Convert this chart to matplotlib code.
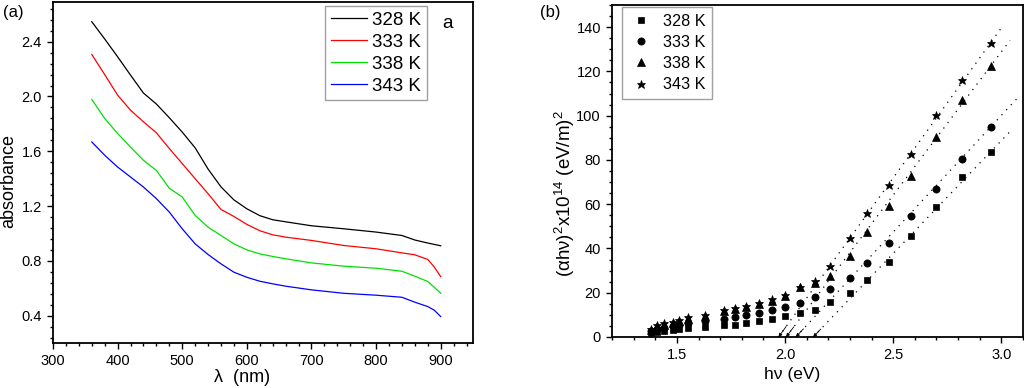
import matplotlib
matplotlib.use("Agg")
import matplotlib.pyplot as plt
import numpy as np
from matplotlib.ticker import MultipleLocator

plt.rcParams['font.family'] = ['Liberation Sans', 'DejaVu Sans']
plt.rcParams['mathtext.fontset'] = 'custom'
plt.rcParams['mathtext.rm'] = 'Liberation Sans'
plt.rcParams['mathtext.it'] = 'Liberation Sans:italic'
plt.rcParams['mathtext.bf'] = 'Liberation Sans:bold'

# ---------------- data: panel (a) ----------------
wavelength = [360, 380, 400, 420, 440, 460, 480, 500, 520, 540, 560, 580,
              600, 620, 640, 660, 700, 750, 800, 840, 860, 880, 890, 900]
abs_328 = [2.546, 2.42, 2.29, 2.156, 2.025, 1.945, 1.845, 1.74, 1.625, 1.47, 1.34, 1.245,
           1.18, 1.13, 1.10, 1.085, 1.056, 1.034, 1.01, 0.985, 0.952, 0.93, 0.92, 0.91]
abs_333 = [2.307, 2.16, 2.01, 1.90, 1.815, 1.735, 1.62, 1.51, 1.40, 1.29, 1.175, 1.124,
           1.066, 1.02, 0.99, 0.973, 0.949, 0.912, 0.888, 0.858, 0.844, 0.81, 0.755, 0.685]
abs_338 = [1.978, 1.84, 1.73, 1.63, 1.534, 1.46, 1.33, 1.266, 1.132, 1.046, 0.985, 0.924,
           0.88, 0.851, 0.832, 0.815, 0.785, 0.761, 0.746, 0.724, 0.688, 0.649, 0.607, 0.563]
abs_343 = [1.668, 1.571, 1.485, 1.412, 1.339, 1.254, 1.156, 1.034, 0.924, 0.846, 0.778, 0.717,
           0.680, 0.651, 0.632, 0.615, 0.588, 0.563, 0.549, 0.534, 0.498, 0.466, 0.44, 0.393]
labels_a = ['328 K', '333 K', '338 K', '343 K']
colors_a = ['#000000', '#ff0000', '#00e000', '#0000ff']

# ---------------- data: panel (b) ----------------
energy = [1.38, 1.41, 1.44, 1.48, 1.51, 1.55, 1.63, 1.72, 1.77, 1.82, 1.88, 1.94,
          2.00, 2.07, 2.14, 2.21, 2.30, 2.38, 2.48, 2.58, 2.70, 2.82, 2.95]
tauc_328 = [1.8, 2.4, 2.9, 3.3, 3.6, 4.1, 4.5, 5.3, 5.6, 6.3, 7.1, 8.1,
            9.3, 10.8, 12.3, 15.6, 19.8, 25.8, 34.1, 45.7, 58.6, 72.4, 83.7]
tauc_333 = [2.6, 3.6, 4.1, 4.8, 5.6, 6.3, 7.1, 8.3, 9.0, 10.1, 10.8, 12.0,
            13.5, 15.3, 17.9, 21.6, 26.6, 33.3, 42.4, 54.8, 66.8, 80.5, 94.9]
tauc_338 = [3.3, 4.8, 5.6, 6.3, 7.1, 8.3, 9.3, 11.6, 12.6, 13.5, 14.9, 16.4,
            18.3, 22.5, 24.6, 27.6, 36.8, 47.6, 59.3, 72.9, 90.4, 107.0, 122.4]
tauc_343 = [3.8, 5.4, 6.2, 7.0, 7.8, 9.0, 9.9, 12.3, 13.3, 14.0, 15.5, 17.0,
            18.8, 22.8, 25.4, 32.3, 44.6, 55.9, 68.6, 82.9, 100.2, 116.0, 132.9]
labels_b = ['328 K', '333 K', '338 K', '343 K']
markers_b = ['s', 'o', '^', '*']
msizes_b = [4.6, 5.2, 5.8, 6.3]
# linear fits (x-intercept = band gap, slope, end of drawn line)
fit_intercept = [2.13, 2.05, 2.005, 1.97]
fit_slope = [102.0, 105.4, 129.5, 135.6]
fit_end = [3.04, 3.08, 3.04, 3.00]

W, H = 1024, 388
fig = plt.figure(figsize=(W / 100, H / 100), dpi=100)


def px_axes(l, t, r, b):
    return fig.add_axes([l / W, 1 - b / H, (r - l) / W, (b - t) / H])


def style_axes(ax):
    for s in ax.spines.values():
        s.set_linewidth(1.3)
    ax.tick_params(which='both', direction='out', top=False, right=False,
                   labelsize=10.5, width=1.0)
    ax.tick_params(which='major', length=4.5, pad=3.5)
    ax.tick_params(which='minor', length=2.5)


# ---------------- panel (a) ----------------
axa = px_axes(53, 2, 473, 343)
series_a = [abs_328, abs_333, abs_338, abs_343]
for ys, lab, c in zip(series_a, labels_a, colors_a):
    axa.plot(wavelength, ys, color=c, lw=0.9, label=lab)
axa.set_xlim(300, 950)
axa.set_ylim(0.2, 2.69)
axa.xaxis.set_major_locator(MultipleLocator(100))
axa.xaxis.set_minor_locator(MultipleLocator(20))
axa.yaxis.set_major_locator(MultipleLocator(0.4))
axa.yaxis.set_minor_locator(MultipleLocator(0.08))
axa.set_xticks([300, 400, 500, 600, 700, 800, 900])
axa.yaxis.set_major_formatter(matplotlib.ticker.FormatStrFormatter('%.1f'))
style_axes(axa)
leg_a = axa.legend(loc='upper left', bbox_to_anchor=(325 / W, 1 - 6 / H),
                   bbox_transform=fig.transFigure, fontsize=13.5, frameon=True,
                   fancybox=False, borderpad=0.3, borderaxespad=0,
                   handlelength=1.92, handletextpad=0.28, labelspacing=0.26)
leg_a.get_frame().set_edgecolor('#888888')
leg_a.get_frame().set_linewidth(1.0)
fig.text(447.7 / W, 1 - 24 / H, 'a', fontsize=13.5, ha='center', va='center')

# ---------------- panel (b) ----------------
axb = px_axes(612, 5, 1023, 337)
series_b = [tauc_328, tauc_333, tauc_338, tauc_343]
for ys, lab, m, ms in zip(series_b, labels_b, markers_b, msizes_b):
    axb.plot(energy, ys, linestyle='none', marker=m, ms=ms, color='k',
             markeredgewidth=0.5, label=lab)
for x0, k, x1 in zip(fit_intercept, fit_slope, fit_end):
    xx = np.array([x0, x1])
    axb.plot(xx, k * (xx - x0), color='k', lw=0.9, linestyle=(0, (1, 4.5)))
    dx = 0.035
    axb.annotate('', xy=(x0, 0), xytext=(x0 + dx, k * dx),
                 arrowprops=dict(arrowstyle='-|>', lw=0.6, color='k',
                                 mutation_scale=5, shrinkA=0, shrinkB=0))
axb.set_xlim(1.2, 3.1)
axb.set_ylim(0, 150)
axb.xaxis.set_major_locator(MultipleLocator(0.5))
axb.xaxis.set_minor_locator(MultipleLocator(0.1))
axb.yaxis.set_major_locator(MultipleLocator(20))
axb.yaxis.set_minor_locator(MultipleLocator(5))
axb.set_xticks([1.5, 2.0, 2.5, 3.0])
axb.set_yticks([0, 20, 40, 60, 80, 100, 120, 140])
axb.xaxis.set_major_formatter(matplotlib.ticker.FormatStrFormatter('%.1f'))
style_axes(axb)
leg_b = axb.legend(loc='upper left', bbox_to_anchor=(622 / W, 1 - 7.3 / H),
                   bbox_transform=fig.transFigure, fontsize=11.7, frameon=True,
                   fancybox=False, borderpad=0.4, borderaxespad=0,
                   handlelength=1.5, handletextpad=0.6, labelspacing=0.38,
                   numpoints=1)
leg_b.get_frame().set_edgecolor('#888888')
leg_b.get_frame().set_linewidth(1.0)

# ---------------- labels ----------------
fig.text(13 / W, 1 - 12 / H, '(a)', fontsize=12, ha='center', va='center')
fig.text(550 / W, 1 - 12 / H, '(b)', fontsize=12, ha='center', va='center')
fig.text(9 / W, 1 - 181.5 / H, 'absorbance', fontsize=13, rotation=90,
         ha='center', va='center')
fig.text(241.7 / W, 1 - 378 / H, 'λ  (nm)', fontsize=13, ha='center', va='center')
fig.text(792 / W, 1 - 375 / H, 'hν (eV)', fontsize=12.5, ha='center', va='center')
fig.text(565 / W, 1 - 193.5 / H, r'(αhν)$^{2}$x10$^{14}$ (eV/m)$^{2}$', fontsize=13.5,
         rotation=90, ha='center', va='center')

fig.savefig('out.png', dpi=100)
